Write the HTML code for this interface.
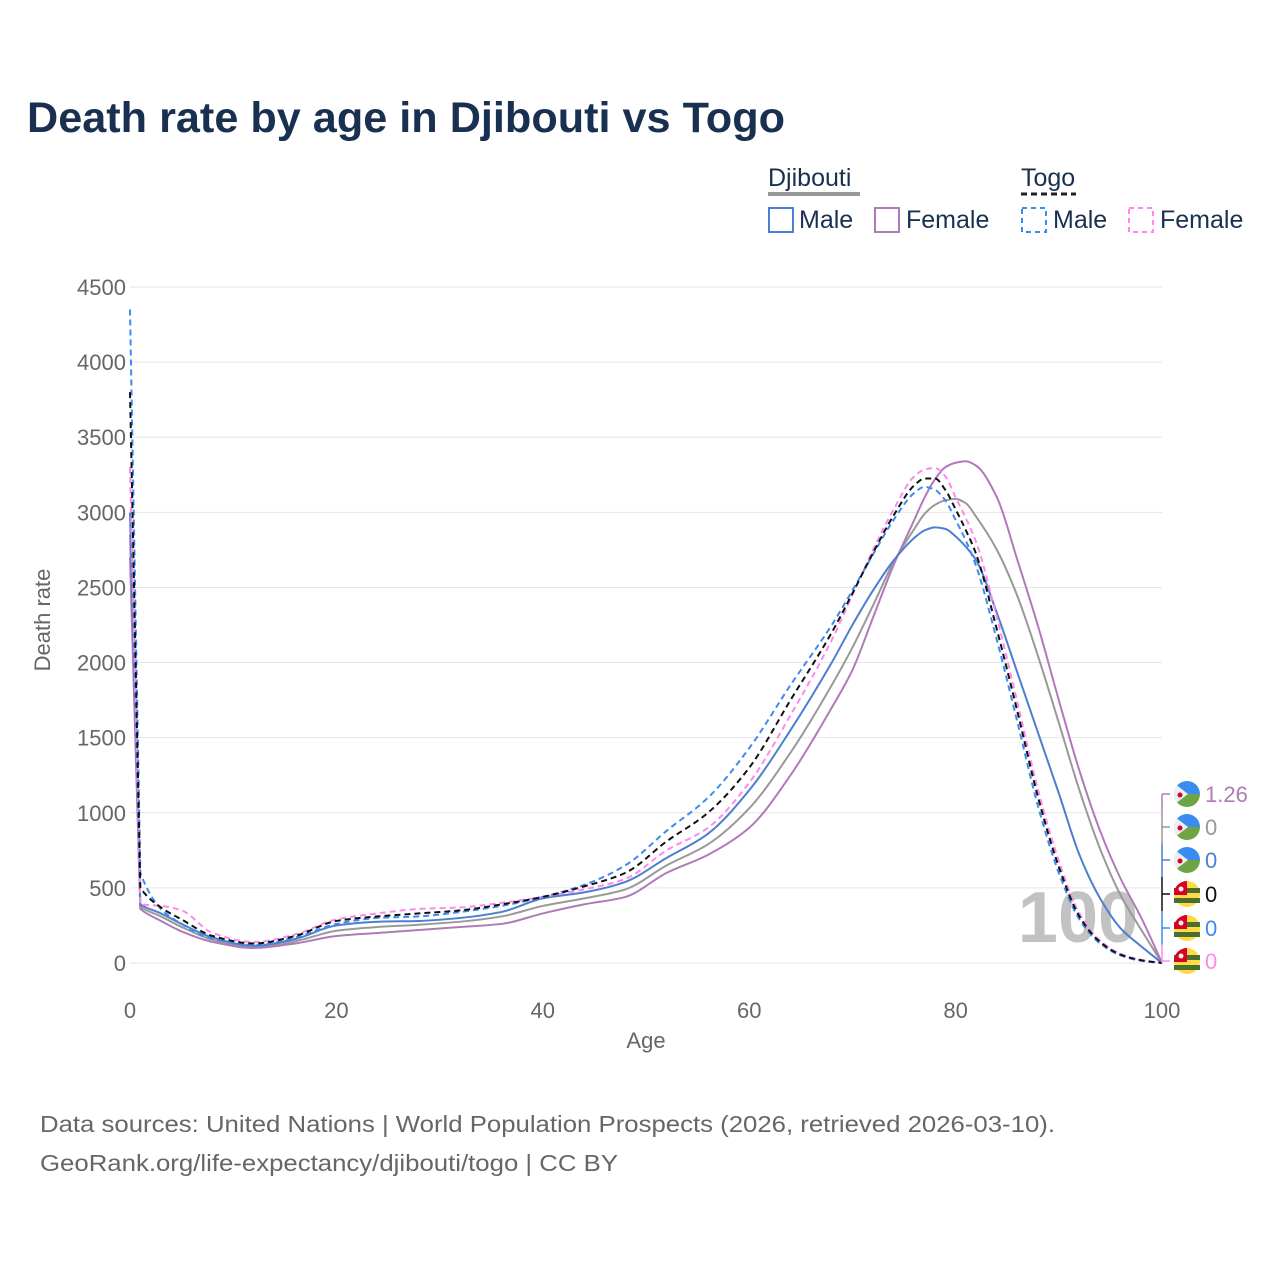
<!DOCTYPE html>
<html><head><meta charset="utf-8">
<style>
body{margin:0;background:#fff;font-family:"Liberation Sans",sans-serif;}
svg text{font-family:"Liberation Sans",sans-serif;}
</style></head>
<body>
<svg id="chart" width="1280" height="1280" viewBox="0 0 1280 1280" xmlns="http://www.w3.org/2000/svg">
<rect width="1280" height="1280" fill="#fff"/>
<text x="27" y="132" font-size="43" font-weight="bold" fill="#1a3050" textLength="758" lengthAdjust="spacingAndGlyphs">Death rate by age in Djibouti vs Togo</text>
<g font-size="25" fill="#1a3050">
<text x="768" y="186">Djibouti</text>
<line x1="768" y1="194" x2="860" y2="194" stroke="#999" stroke-width="4"/>
<text x="1021" y="186">Togo</text>
<line x1="1021" y1="194" x2="1076" y2="194" stroke="#222" stroke-width="3" stroke-dasharray="6,4"/>
<rect x="769" y="208" width="24" height="24" fill="none" stroke="#4d7fcf" stroke-width="2"/>
<text x="799" y="228">Male</text>
<rect x="875" y="208" width="24" height="24" fill="none" stroke="#b07ab8" stroke-width="2"/>
<text x="906" y="228">Female</text>
<rect x="1022" y="208" width="24" height="24" fill="none" stroke="#3b8cf0" stroke-width="2" stroke-dasharray="5,4"/>
<text x="1053" y="228">Male</text>
<rect x="1129" y="208" width="24" height="24" fill="none" stroke="#ff88ee" stroke-width="2" stroke-dasharray="5,4"/>
<text x="1160" y="228">Female</text>
</g>
<g id="grid"></g>
<text x="1078" y="942" font-size="72" font-weight="bold" fill="#bbb" fill-opacity="0.9" text-anchor="middle">100</text>
<g id="series"></g>
<g id="markers"></g>
<text x="646" y="1048" font-size="22" fill="#666" text-anchor="middle">Age</text>
<text transform="translate(50,620) rotate(-90)" font-size="22" fill="#666" text-anchor="middle">Death rate</text>
<text x="40" y="1132" font-size="23" fill="#666" textLength="1015" lengthAdjust="spacingAndGlyphs">Data sources: United Nations | World Population Prospects (2026, retrieved 2026-03-10).</text>
<text x="40" y="1171" font-size="23" fill="#666" textLength="578" lengthAdjust="spacingAndGlyphs">GeoRank.org/life-expectancy/djibouti/togo | CC BY</text>
</svg>
<script>
const ages = [0,1,3,5,8,12,16,20,24,28,32,36,40,44,48,52,56,60,64,68,70,72,74,76,77,78,79,80,81,82,84,86,88,90,92,94,96,98,100];
const djMale   = [3000,390,330,260,170,115,160,250,275,280,300,340,430,470,540,700,860,1150,1550,2000,2250,2480,2680,2830,2880,2900,2890,2840,2770,2680,2330,1930,1530,1130,720,430,230,110,0];
const djFemale = [2700,360,280,210,140,100,130,180,200,220,240,260,330,390,440,600,720,900,1250,1700,1950,2300,2650,2950,3100,3220,3300,3330,3340,3310,3100,2680,2240,1750,1280,880,560,300,1.26];
const djTotal  = [2850,375,310,240,155,108,145,215,240,255,275,310,380,430,490,650,790,1030,1400,1850,2100,2380,2670,2890,2990,3050,3080,3090,3060,2970,2750,2440,2040,1600,1150,760,450,220,0];
const tgMale   = [4350,600,360,260,160,120,170,260,300,310,340,380,440,520,650,880,1100,1430,1850,2250,2480,2720,2950,3130,3170,3150,3080,2950,2810,2640,2150,1600,1040,600,290,130,50,15,0];
const tgFemale = [3300,390,380,350,200,140,190,290,330,360,370,400,440,490,560,750,900,1200,1650,2150,2450,2750,3020,3240,3285,3295,3240,3100,2960,2800,2300,1730,1150,680,330,150,60,20,0];
const tgTotal  = [3800,500,370,290,180,130,180,280,310,330,350,390,440,510,600,810,1000,1300,1750,2200,2460,2730,2980,3180,3225,3225,3150,3020,2880,2720,2220,1670,1100,640,310,140,55,18,0];
const yTicks = [0,500,1000,1500,2000,2500,3000,3500,4000,4500];
const xTicks = [0,20,40,60,80,100];
const endLabels = ['1.26','0','0','0','0','0'];

const X = a => 130 + a*10.32;
const Y = v => 963 - v*0.15022;
const NS='http://www.w3.org/2000/svg';
function mk(tag, attrs, parent){const e=document.createElementNS(NS,tag);for(const k in attrs)e.setAttribute(k,attrs[k]);parent.appendChild(e);return e;}

const grid=document.getElementById('grid');
yTicks.forEach(t=>{
  mk('line',{x1:130,x2:1162,y1:Y(t),y2:Y(t),stroke:'#e6e6e6','stroke-width':1},grid);
  const tx=mk('text',{x:126,y:Y(t)+8,'font-size':22,fill:'#666','text-anchor':'end'},grid);
  
  
  tx.textContent=t;
});
xTicks.forEach(t=>{
  const tx=mk('text',{x:X(t),y:1018,'font-size':22,fill:'#666','text-anchor':'middle'},grid);
  
  
  tx.textContent=t;
});

function pathFor(vals){
  const p=ages.map((a,i)=>[X(a),Y(vals[i])]);
  const n=p.length, d=[], m=new Array(n);
  for(let i=0;i<n-1;i++) d.push((p[i+1][1]-p[i][1])/(p[i+1][0]-p[i][0]));
  m[0]=d[0]; m[n-1]=d[n-2];
  for(let i=1;i<n-1;i++){
    if(d[i-1]*d[i]<=0) m[i]=0;
    else { const h0=p[i][0]-p[i-1][0], h1=p[i+1][0]-p[i][0];
      m[i]=3*(h0+h1)/((2*h1+h0)/d[i-1]+(h1+2*h0)/d[i]); }
  }
  m[1]=Math.max(Math.min(m[1],d[1]*1.5),Math.min(d[1],0));
  let s='M'+p[0][0]+','+p[0][1]+' L'+p[1][0]+','+p[1][1];
  for(let i=1;i<n-1;i++){
    const h=(p[i+1][0]-p[i][0])/3;
    s+=' C'+(p[i][0]+h)+','+(p[i][1]+m[i]*h)+' '+(p[i+1][0]-h)+','+(p[i+1][1]-m[i+1]*h)+' '+p[i+1][0]+','+p[i+1][1];
  }
  return s;
}
const sg=document.getElementById('series');
const defs=[
 [djTotal,'#999','',2,'djibouti-total-line'],
 [djFemale,'#b07ab8','',2,'djibouti-female-line'],
 [djMale,'#4d7fcf','',2,'djibouti-male-line'],
 [tgFemale,'#ff88ee','6,4',2,'togo-female-line'],
 [tgMale,'#3b8cf0','6,4',2,'togo-male-line'],
 [tgTotal,'#111','6,4',2,'togo-total-line']
];
defs.forEach(s=>{
  const el=mk('path',{d:pathFor(s[0]),fill:'none',stroke:s[1],'stroke-width':s[3],'stroke-dasharray':s[2]},sg);
  
  
});

const mg=document.getElementById('markers');
const mColors=['#b07ab8','#999','#4d7fcf','#111','#3b8cf0','#ff88ee'];
const mYs=[794,827,860,894,928,961];
mYs.forEach((y,i)=>{
  const top=i===0?y:(mYs[i-1]+y)/2, bot=i===5?963:(y+mYs[i+1])/2;
  mk('path',{d:`M1162,${top} L1162,${bot} M1162,${y} L1170,${y}`,stroke:mColors[i],'stroke-width':1.5,fill:'none'},mg);
  const cx=1187, r=13;
  const g=mk('g',{},mg);
  
  
  if(i<3){
    mk('path',{d:`M${cx-r},${y} A${r},${r} 0 0 1 ${cx+r},${y} Z`,fill:'#3b8cf0'},g);
    mk('path',{d:`M${cx-r},${y} A${r},${r} 0 0 0 ${cx+r},${y} Z`,fill:'#6da544'},g);
    mk('path',{d:`M${cx-10},${y-8.5} L${cx+1},${y} L${cx-10},${y+8.5} A${r},${r} 0 0 1 ${cx-10},${y-8.5} Z`,fill:'#eee'},g);
    mk('circle',{cx:cx-7,cy:y+1,r:2.5,fill:'#d80027'},g);
  } else {
    mk('circle',{cx:cx,cy:y,r:r,fill:'#ffda44'},g);
    mk('rect',{x:cx-r,y:y-6,width:2*r,height:5,fill:'#496e2d'},g);
    mk('rect',{x:cx-r,y:y+4,width:2*r,height:5,fill:'#496e2d'},g);
    mk('path',{d:`M${cx-r},${y+1} L${cx},${y+1} L${cx},${y-r} A${r},${r} 0 0 0 ${cx-r},${y+1} Z`,fill:'#d80027'},g);
    mk('circle',{cx:cx-6,cy:y-5,r:2.5,fill:'#eee'},g);
  }
  const t=mk('text',{x:1205,y:y+8,'font-size':22,fill:mColors[i]},mg);
  
  
  t.textContent=endLabels[i];
});
</script>
</body></html>
